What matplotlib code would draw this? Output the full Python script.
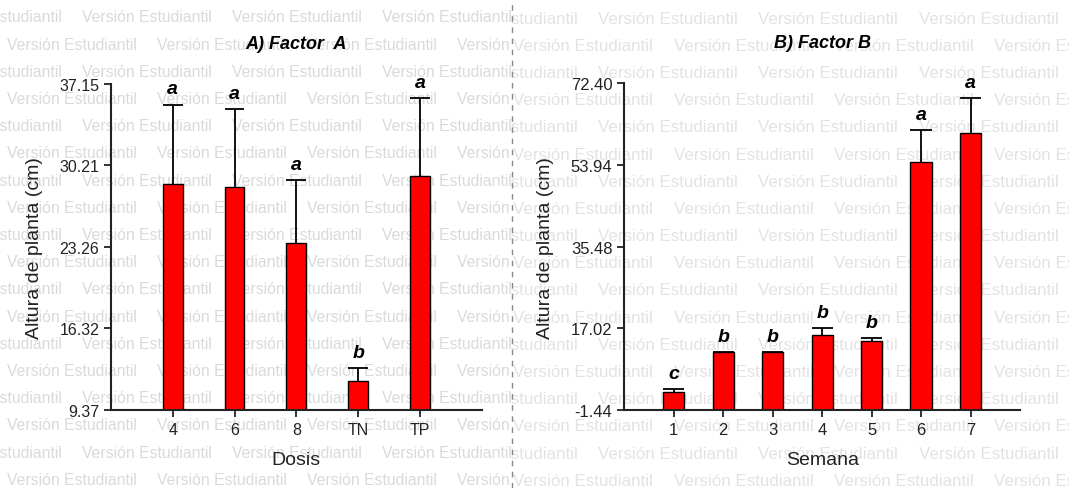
import matplotlib
matplotlib.use("Agg")
import matplotlib.pyplot as plt
import numpy as np

plt.rcParams['font.family'] = ['Liberation Sans', 'DejaVu Sans']

# ---------------- data ----------------
dosis = ["4", "6", "8", "TN", "TP"]
altura_a = [28.64, 28.35, 23.58, 11.87, 29.35]
error_a = [6.76, 6.68, 5.42, 1.05, 6.62]
letras_a = ["a", "a", "a", "b", "a"]
yticks_a = [9.37, 16.32, 23.26, 30.21, 37.15]

semana = ["1", "2", "3", "4", "5", "6", "7"]
altura_b = [2.56, 11.60, 11.60, 15.58, 14.22, 54.69, 61.11]
error_b = [0.75, 0.15, 0.15, 1.45, 0.55, 7.16, 7.97]
letras_b = ["c", "b", "b", "b", "b", "a", "a"]
yticks_b = [-1.44, 17.02, 35.48, 53.94, 72.40]

W, H = 1069, 489
fig = plt.figure(figsize=(W / 100, H / 100), dpi=100)

# ---------------- watermark background ----------------
def watermark(left_px, right_px, color, size, spacing, row_offsets, y0):
    bg = fig.add_axes([left_px / W, 0, (right_px - left_px) / W, 1], zorder=-10)
    bg.set_xlim(left_px, right_px)
    bg.set_ylim(H, 0)
    bg.axis("off")
    k = 0
    y = y0
    while y < H + 20:
        x = row_offsets[k % 2]
        while x < right_px:
            bg.text(x, y, "Versión Estudiantil", color=color, fontsize=size,
                    va="center", ha="left", clip_on=True)
            x += spacing
        y += 27.2
        k += 1

watermark(0, 511, "#dadada", 11.3, 150, [-68, 7], 18)
watermark(511, W, "#e4e2e2", 12.2, 160.5, [437.5, 513], 19)

# separator
fig.add_artist(plt.Line2D([511.5 / W, 511.5 / W], [0, 1], color="#888888",
                          lw=1, ls=(0, (4, 4))))

def panel(rect, cats, vals, errs, letters, yticks, xlim, width, title,
          xlabel, tsize):
    ax = fig.add_axes(rect)
    ax.patch.set_alpha(0)
    x = np.arange(1, len(cats) + 1)
    base = yticks[0]
    ax.bar(x, np.array(vals) - base, bottom=base, width=width,
           color="#ff0000", edgecolor="black", linewidth=1.0, zorder=2)
    tops = np.array(vals) + np.array(errs)
    ax.vlines(x, vals, tops, color="black", lw=1.3, zorder=3)
    ax.hlines(tops, x - width / 2, x + width / 2, color="black", lw=1.3,
              zorder=3)
    for xi, t, l in zip(x, tops, letters):
        ax.annotate(l, (xi, t), xytext=(0, 8), textcoords="offset points",
                    ha="center", va="baseline", fontsize=14,
                    fontweight="bold", fontstyle="italic")
    ax.set_xlim(*xlim)
    ax.set_ylim(yticks[0], yticks[-1])
    ax.set_yticks(yticks)
    ax.set_yticklabels([f"{v:.2f}" for v in yticks])
    ax.set_xticks(x)
    ax.set_xticklabels(cats)
    for s in ["top", "right"]:
        ax.spines[s].set_visible(False)
    for s in ["left", "bottom"]:
        ax.spines[s].set_linewidth(1.5)
        ax.spines[s].set_color("#222222")
    ax.tick_params(axis="both", direction="out", length=5, width=1.3,
                   labelsize=tsize, colors="#222222", labelcolor="#222222")
    ax.set_ylabel("Altura de planta (cm)", fontsize=14, labelpad=12,
                  color="#222222")
    ax.set_xlabel(xlabel, fontsize=14, labelpad=10, color="#222222")
    ax.set_title(title, fontsize=13, fontweight="bold", fontstyle="italic",
                 pad=26)
    return ax

panel([111 / W, 1 - 411 / H, 370.7 / W, 326 / H], dosis, altura_a, error_a,
      letras_a, yticks_a, (0, 6), 0.32, "A) Factor  A", "Dosis", 11.5)
panel([624.3 / W, 1 - 411 / H, 395.7 / W, 326.7 / H], semana, altura_b,
      error_b, letras_b, yticks_b, (0, 8), 0.43, "B) Factor B", "Semana", 12)

fig.savefig("out.png", dpi=100)
